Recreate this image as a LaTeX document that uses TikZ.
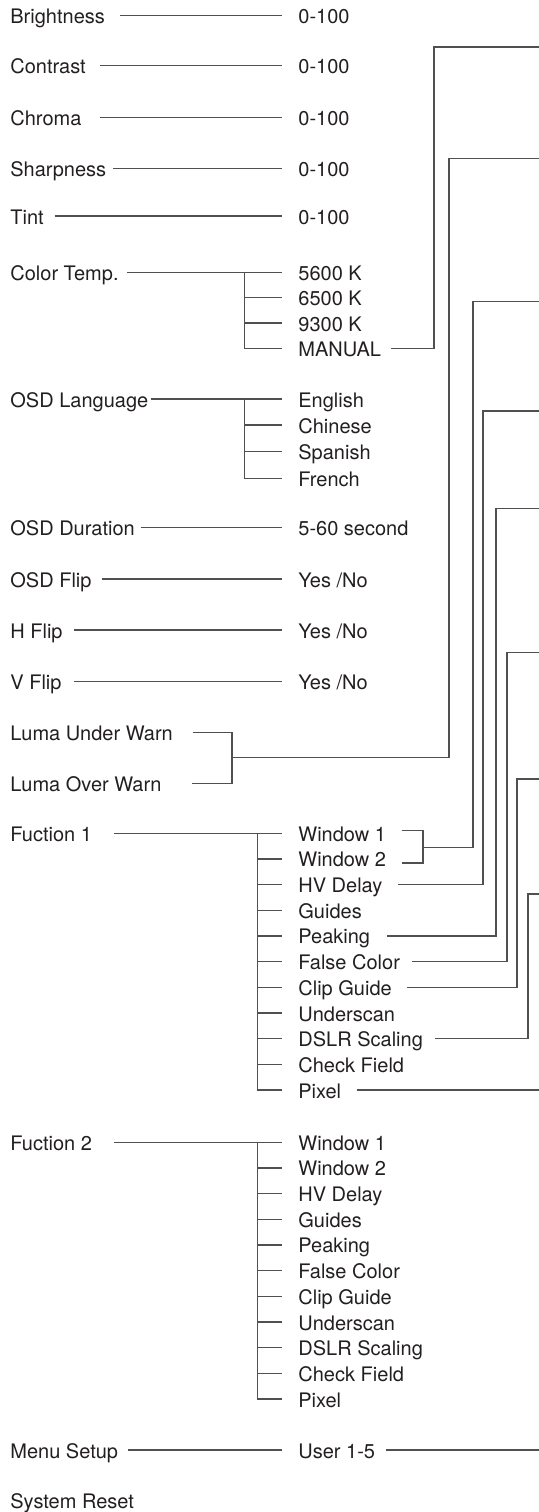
\documentclass[tikz,border=0pt]{standalone}
\usepackage{fontspec}
\setmainfont{TeX Gyre Heros}
\usepackage{tikz}
\usetikzlibrary{calc}
\definecolor{MenuText}{RGB}{35,31,32}
\definecolor{MenuLine}{RGB}{80,80,80}

\begin{document}
\begin{tikzpicture}[
  x=0.5bp,y=-0.5bp,
  item/.style={anchor=west,inner sep=0pt,text height=8bp,text depth=0pt,
               font=\fontsize{10bp}{12bp}\selectfont,text=MenuText},
  link/.style={draw=MenuLine,line width=0.55bp},
  from/.style={shorten <=#1},
  into/.style={shorten >=8.2bp}
]
\useasboundingbox (0,0) rectangle (539,1512);
\coordinate (edge) at (539,0);

% simple settings
\node[item] (bri) at (10,15.5) {Brightness};
\node[item] (bri-v) at (298,15.5) {0-100};
\node[item] (con) at (10,65.3) {Contrast};
\node[item] (con-v) at (298,65.3) {0-100};
\node[item] (chr) at (10,117.3) {Chroma};
\node[item] (chr-v) at (298,117.3) {0-100};
\node[item] (shp) at (10,168.7) {Sharpness};
\node[item] (shp-v) at (298,168.7) {0-100};
\node[item] (tnt) at (10,216) {Tint};
\node[item] (tnt-v) at (298,216) {0-100};
\draw[link,from=7.25bp,into] (bri.east) -- (bri-v.west);
\draw[link,from=7bp,into] (con.east) -- (con-v.west);
\draw[link,from=9.3bp,into] (chr.east) -- (chr-v.west);
\draw[link,from=3.2bp,into] (shp.east) -- (shp-v.west);
\draw[link,from=5.35bp,into] (tnt.east) -- (tnt-v.west);

% color temperature
\node[item] (ct) at (10,272.3) {Color Temp.};
\node[item] (ct-1) at (298,272.3) {5600 K};
\node[item] (ct-2) at (298,297.7) {6500 K};
\node[item] (ct-3) at (298,323) {9300 K};
\node[item] (ct-4) at (298,348.7) {MANUAL};
\coordinate (ct-b) at (244.8,272.3);
\draw[link,from=4bp,into] (ct.east) -- (ct-1.west);
\draw[link,into] (ct-b) |- (ct-4.west);
\draw[link,into] (ct-2.west -| ct-b) -- (ct-2.west);
\draw[link,into] (ct-3.west -| ct-b) -- (ct-3.west);

% osd language
\node[item] (lng) at (10,399) {OSD Language};
\node[item] (lng-1) at (298,399) {English};
\node[item] (lng-2) at (298,425) {Chinese};
\node[item] (lng-3) at (298,451.7) {Spanish};
\node[item] (lng-4) at (298,478.7) {French};
\coordinate (lng-b) at (244.8,399);
\draw[link,from=1bp,into] (lng.east) -- (lng-1.west);
\draw[link,into] (lng-b) |- (lng-4.west);
\draw[link,into] (lng-2.west -| lng-b) -- (lng-2.west);
\draw[link,into] (lng-3.west -| lng-b) -- (lng-3.west);

% osd and flips
\node[item] (dur) at (10,527.3) {OSD Duration};
\node[item] (dur-v) at (298,527.3) {5-60 second};
\node[item] (ofl) at (10,579) {OSD Flip};
\node[item] (ofl-v) at (298,579) {Yes /No};
\node[item] (hfl) at (10,630) {H Flip};
\node[item] (hfl-v) at (298,630) {Yes /No};
\node[item] (vfl) at (10,681.7) {V Flip};
\node[item] (vfl-v) at (298,681.7) {Yes /No};
\draw[link,from=2.75bp,into] (dur.east) -- (dur-v.west);
\draw[link,from=5bp,into] (ofl.east) -- (ofl-v.west);
\draw[link,from=5.4bp,into] (hfl.east) -- (hfl-v.west);
\draw[link,from=6bp,into] (vfl.east) -- (vfl-v.west);

% luma warnings
\node[item] (lu) at (10,732.3) {Luma Under Warn};
\node[item] (lo) at (10,783.3) {Luma Over Warn};
\coordinate (lm) at (232,757.5);
\draw[link,shorten <=9.8bp,shorten >=15.15bp] (lu.east) -| (lm) |- (lo.east);

% function 1
\node[item] (fn1) at (10,833.3) {Fuction 1};
\foreach \name [count=\i] in {Window 1,Window 2,HV Delay,Guides,Peaking,False Color,
    Clip Guide,Underscan,DSLR Scaling,Check Field,Pixel}
  \node[item] (f1-\i) at (298,{833.3+(\i-1)*25.67}) {\name};
\coordinate (f1-b) at (257.8,833.3);
\draw[link,from=10.85bp,into] (fn1.east) -- (f1-1.west);
\draw[link,into] (f1-b) |- (f1-11.west);
\foreach \i in {2,...,10}
  \draw[link,into] (f1-\i.west -| f1-b) -- (f1-\i.west);
\coordinate (wj) at (423,847.7);
\draw[link,shorten <=7.6bp,shorten >=7.6bp]
  ([yshift=1.6bp]f1-1.east) -| (wj) |- ([yshift=-2bp]f1-2.east);

% function 2
\node[item] (fn2) at (10,1142.3) {Fuction 2};
\foreach \name [count=\i] in {Window 1,Window 2,HV Delay,Guides,Peaking,False Color,
    Clip Guide,Underscan,DSLR Scaling,Check Field,Pixel}
  \node[item] (f2-\i) at (298,{1142.3+(\i-1)*25.67}) {\name};
\coordinate (f2-b) at (257.8,1142.3);
\draw[link,from=10.85bp,into] (fn2.east) -- (f2-1.west);
\draw[link,into] (f2-b) |- (f2-11.west);
\foreach \i in {2,...,10}
  \draw[link,into] (f2-\i.west -| f2-b) -- (f2-\i.west);

% menu setup, reset
\node[item] (ms) at (10,1450) {Menu Setup};
\node[item] (ms-v) at (298,1450) {User 1-5};
\node[item] (sr) at (10,1500) {System Reset};
\draw[link,from=4.6bp,into] (ms.east) -- (ms-v.west);

% links leaving on the right
\coordinate (r1) at (434,47);
\coordinate (r2) at (449,158.3);
\coordinate (r3) at (473,301.7);
\coordinate (r4) at (483,411);
\coordinate (r5) at (496,508.3);
\coordinate (r6) at (507,652.3);
\coordinate (r7) at (517,779);
\coordinate (r8) at (528,894);
\draw[link,from=4.85bp] (ct-4.east) -| (r1) -- (r1 -| edge);
\draw[link] (lm) -| (r2) -- (r2 -| edge);
\draw[link] (wj) -| (r3) -- (r3 -| edge);
\draw[link,from=7.75bp] (f1-3.east) -| (r4) -- (r4 -| edge);
\draw[link,from=8.35bp] (f1-5.east) -| (r5) -- (r5 -| edge);
\draw[link,from=5.65bp] (f1-6.east) -| (r6) -- (r6 -| edge);
\draw[link,from=7.3bp] (f1-7.east) -| (r7) -- (r7 -| edge);
\draw[link,from=5.75bp] (f1-9.east) -| (r8) -- (r8 -| edge);
\draw[link,from=7.6bp] (f1-11.east) -- (f1-11.east -| edge);
\draw[link,from=5.15bp] (ms-v.east) -- (ms-v.east -| edge);
\end{tikzpicture}
\end{document}
